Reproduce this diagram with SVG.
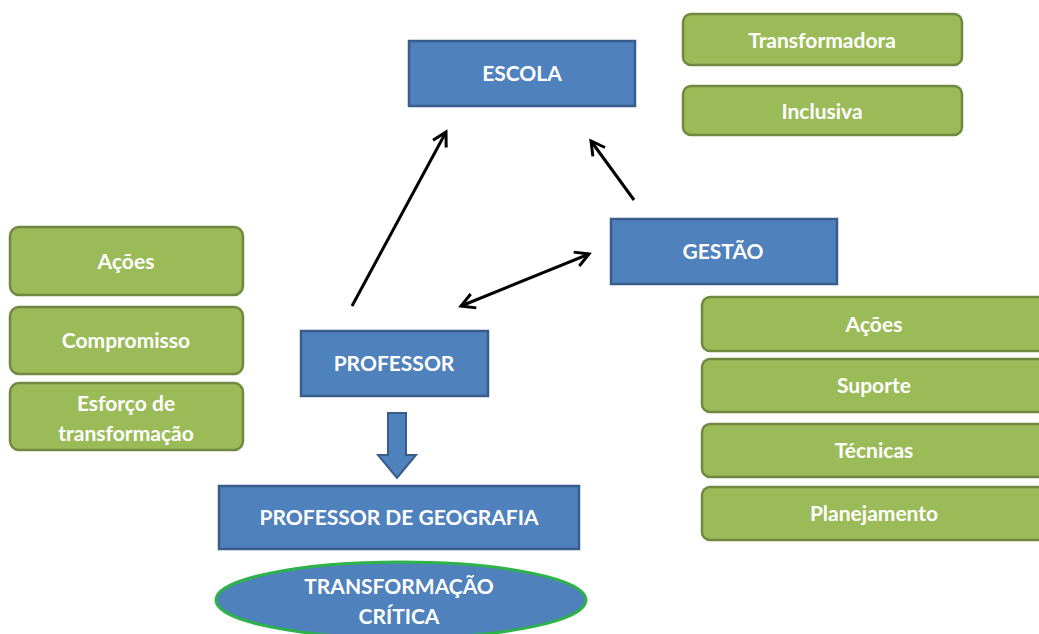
<svg xmlns="http://www.w3.org/2000/svg" width="1039" height="634" viewBox="0 0 1039 634">
<style>
.blue{fill:#4F81BD;stroke:#385D8A;stroke-width:2.5}
.green{fill:#9BBB59;stroke:#71893F;stroke-width:2.5}
.t{font-family:Lato,"Liberation Sans",sans-serif;font-weight:bold;font-size:21px;fill:#fff;text-anchor:middle}
.c{stroke:#000;stroke-width:3;fill:none}
</style>
<defs>
<marker id="ah" viewBox="0 0 12 12" refX="10" refY="6" markerWidth="6" markerHeight="6" orient="auto-start-reverse" markerUnits="strokeWidth">
<path d="M1,1 L10,6 L1,11" fill="none" stroke="#000" stroke-width="2"/>
</marker>
</defs>
<rect width="1039" height="634" fill="#fff"/>
<g id="escola"><rect class="blue" x="409" y="41" width="226" height="65"/><text class="t" x="522" y="81">ESCOLA</text></g>
<g id="transformadora"><rect class="green" x="683" y="14" width="279" height="51" rx="8"/><text class="t" x="822" y="48">Transformadora</text></g>
<g id="inclusiva"><rect class="green" x="683" y="86" width="279" height="49" rx="8"/><text class="t" x="822" y="119">Inclusiva</text></g>
<g id="gestao"><rect class="blue" x="611" y="219" width="226" height="65"/><text class="t" x="723" y="259">GESTÃO</text></g>
<g id="professor"><rect class="blue" x="301" y="331" width="187" height="65"/><text class="t" x="394" y="371">PROFESSOR</text></g>
<g id="acoes-l"><rect class="green" x="10" y="227" width="233" height="68" rx="9"/><text class="t" x="126" y="269">Ações</text></g>
<g id="compromisso"><rect class="green" x="10" y="307" width="233" height="67" rx="9"/><text class="t" x="126" y="348">Compromisso</text></g>
<g id="esforco"><rect class="green" x="10" y="383" width="233" height="67" rx="9"/><text class="t" x="126" y="411">Esforço de</text><text class="t" x="126" y="441">transformação</text></g>
<g id="acoes-r"><rect class="green" x="702" y="297" width="350" height="54" rx="8"/><text class="t" x="874" y="332">Ações</text></g>
<g id="suporte"><rect class="green" x="702" y="359" width="350" height="53" rx="8"/><text class="t" x="874" y="393">Suporte</text></g>
<g id="tecnicas"><rect class="green" x="702" y="424" width="350" height="53" rx="8"/><text class="t" x="874" y="458">Técnicas</text></g>
<g id="planejamento"><rect class="green" x="702" y="487" width="350" height="53" rx="8"/><text class="t" x="874" y="521">Planejamento</text></g>
<g id="prof-geo"><rect class="blue" x="219" y="486" width="360" height="63"/><text class="t" x="399" y="525">PROFESSOR DE GEOGRAFIA</text></g>
<g id="transformacao"><ellipse cx="401" cy="600" rx="185" ry="38" fill="#4F81BD" stroke="#2DB34A" stroke-width="3"/><text class="t" x="399" y="594">TRANSFORMAÇÃO</text><text class="t" x="399" y="624">CRÍTICA</text></g>
<g id="connectors">
<line class="c" x1="352" y1="306" x2="446" y2="132" marker-end="url(#ah)"/>
<line class="c" x1="634" y1="200" x2="591" y2="141" marker-end="url(#ah)"/>
<line class="c" x1="461" y1="306" x2="589" y2="254" marker-start="url(#ah)" marker-end="url(#ah)"/>
<path d="M388,413 H406 V455 H416 L397,478 L378,455 H388 Z" fill="#4F81BD" stroke="#385D8A" stroke-width="2"/>
</g>
</svg>
